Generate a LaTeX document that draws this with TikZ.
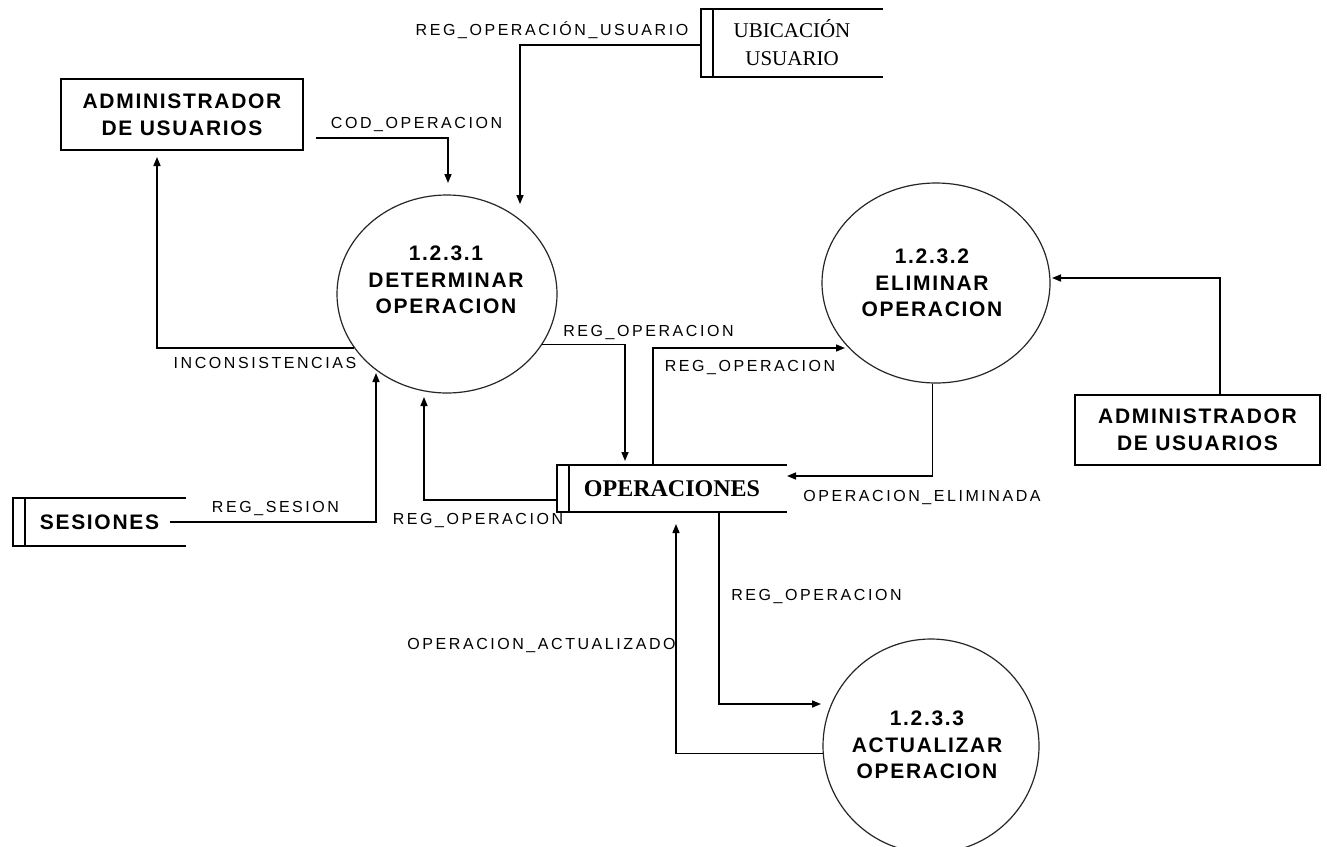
\documentclass[tikz,border=0pt]{standalone}
\usepackage{fontspec}
\usetikzlibrary{arrows.meta,shapes.geometric}
\newfontfamily\lblfont[LetterSpace=16]{Liberation Sans}
\newfontfamily\entfont[LetterSpace=8]{Liberation Sans}
\newfontfamily\storefont{Liberation Serif}

\begin{document}
\begin{tikzpicture}[x=1pt,y=-1pt,
  flow/.style={line width=1.5pt,-{Triangle[length=9pt,width=7pt]}},
  lbl/.style={font=\lblfont\fontsize{16}{19}\selectfont,inner sep=0pt,text height=11.5pt,text depth=0pt},
  entity/.style={draw,line width=1.6pt,inner sep=0pt,align=center,
    font=\entfont\bfseries\fontsize{21}{27}\selectfont},
  proc/.style={ellipse,draw=black!85,line width=1.2pt,inner sep=0pt},
  proctext/.style={font=\entfont\bfseries\fontsize{21}{26.5}\selectfont,align=center,inner sep=0pt},
  store/.style={inner sep=0pt,align=center},
  storeline/.style={line width=1.6pt}]

\useasboundingbox (0,0) rectangle (1327,846);
\fill[white] (0,0) rectangle (1327,846);

% external entities
\node[entity,minimum width=242pt,minimum height=71pt] (admA) at (182,114.5) {ADMINISTRADOR\\DE USUARIOS};
\node[entity,minimum width=245pt,minimum height=70pt] (admB) at (1197.5,430) {ADMINISTRADOR\\DE USUARIOS};

% processes
\node[proc,minimum width=220pt,minimum height=198pt] (c1) at (447,294) {};
\node[proctext] (c1t) at (446,280) {1.2.3.1\\DETERMINAR\\OPERACION};
\node[proc,minimum width=228pt,minimum height=200pt] (c2) at (936,283) {};
\node[proctext] (c2t) at (932,283) {1.2.3.2\\ELIMINAR\\OPERACION};
\node[proc,minimum width=216pt,minimum height=214pt] (c3) at (931,746) {};
\node[proctext] (c3t) at (927,745) {1.2.3.3\\ACTUALIZAR\\OPERACION};

% data stores
\node[store,minimum width=182pt,minimum height=68pt,font=\storefont\fontsize{21}{28}\selectfont] (ubic) at (792,43) {UBICACIÓN\\USUARIO};
\node[store,minimum width=173pt,minimum height=48pt,font=\entfont\bfseries\fontsize{21}{24}\selectfont] (ses) at (99.5,522) {SESIONES};
\node[store,minimum width=230pt,minimum height=47pt,font=\storefont\bfseries\fontsize{24}{28}\selectfont] (ops) at (672,488.5) {OPERACIONES};
\foreach \s in {ubic,ses,ops}{
  \draw[storeline] (\s.north east) -- (\s.north west) -- (\s.south west) -- (\s.south east);
  \draw[storeline] ([xshift=12pt]\s.north west) -- ([xshift=12pt]\s.south west);
}

% arrow ends
\coordinate (k1) at (520,204);
\coordinate (k2) at (448,183);
\coordinate (k3) at (157,157);
\coordinate (k5) at (625,461);
\coordinate (k6) at (845,348);
\coordinate (k7) at (787,476);
\coordinate (k8) at (424,397);
\coordinate (k9) at (821,704);
\coordinate (k10) at (676,524);
\coordinate (k11) at (376,373);
\coordinate (k12) at (1052,278);

% data flows
\draw[flow] ([yshift=-2pt]ubic.west) -| (k1);
\draw[flow] ([shift={(12pt,-23.5pt)}]admA.east) -| (k2);
\draw[flow] (c1.210.4) -| (k3);
\draw[flow] (c1.332.2) -| (k5);
\draw[flow] ([xshift=96pt]ops.north west) |- (k6);
\draw[flow] (c2.268) |- (k7);
\draw[flow] ([yshift=-11.5pt]ops.west) -| (k8);
\draw[flow] ([xshift=162pt]ops.south west) |- (k9);
\draw[flow] (c3.184.5) -| (k10);
\draw[flow] ([xshift=-16pt]ses.east) -| (k11);
\draw[flow] ([xshift=22.5pt]admB.north) |- (k12);

% flow labels
\node[lbl] (l1) at (552,30) {REG\_OPERACIÓN\_USUARIO};
\node[lbl] (l2) at (416.5,123) {COD\_OPERACION};
\node[lbl] (l3) at (265,363) {INCONSISTENCIAS};
\node[lbl] (l4) at (275.5,507) {REG\_SESION};
\node[lbl] (l5) at (478,519) {REG\_OPERACION};
\node[lbl] (l6) at (648.5,331) {REG\_OPERACION};
\node[lbl] (l7) at (750,366) {REG\_OPERACION};
\node[lbl] (l8) at (922,496) {OPERACION\_ELIMINADA};
\node[lbl] (l9) at (816.5,595) {REG\_OPERACION};
\node[lbl] (l10) at (541.5,644) {OPERACION\_ACTUALIZADO};
\end{tikzpicture}
\end{document}
